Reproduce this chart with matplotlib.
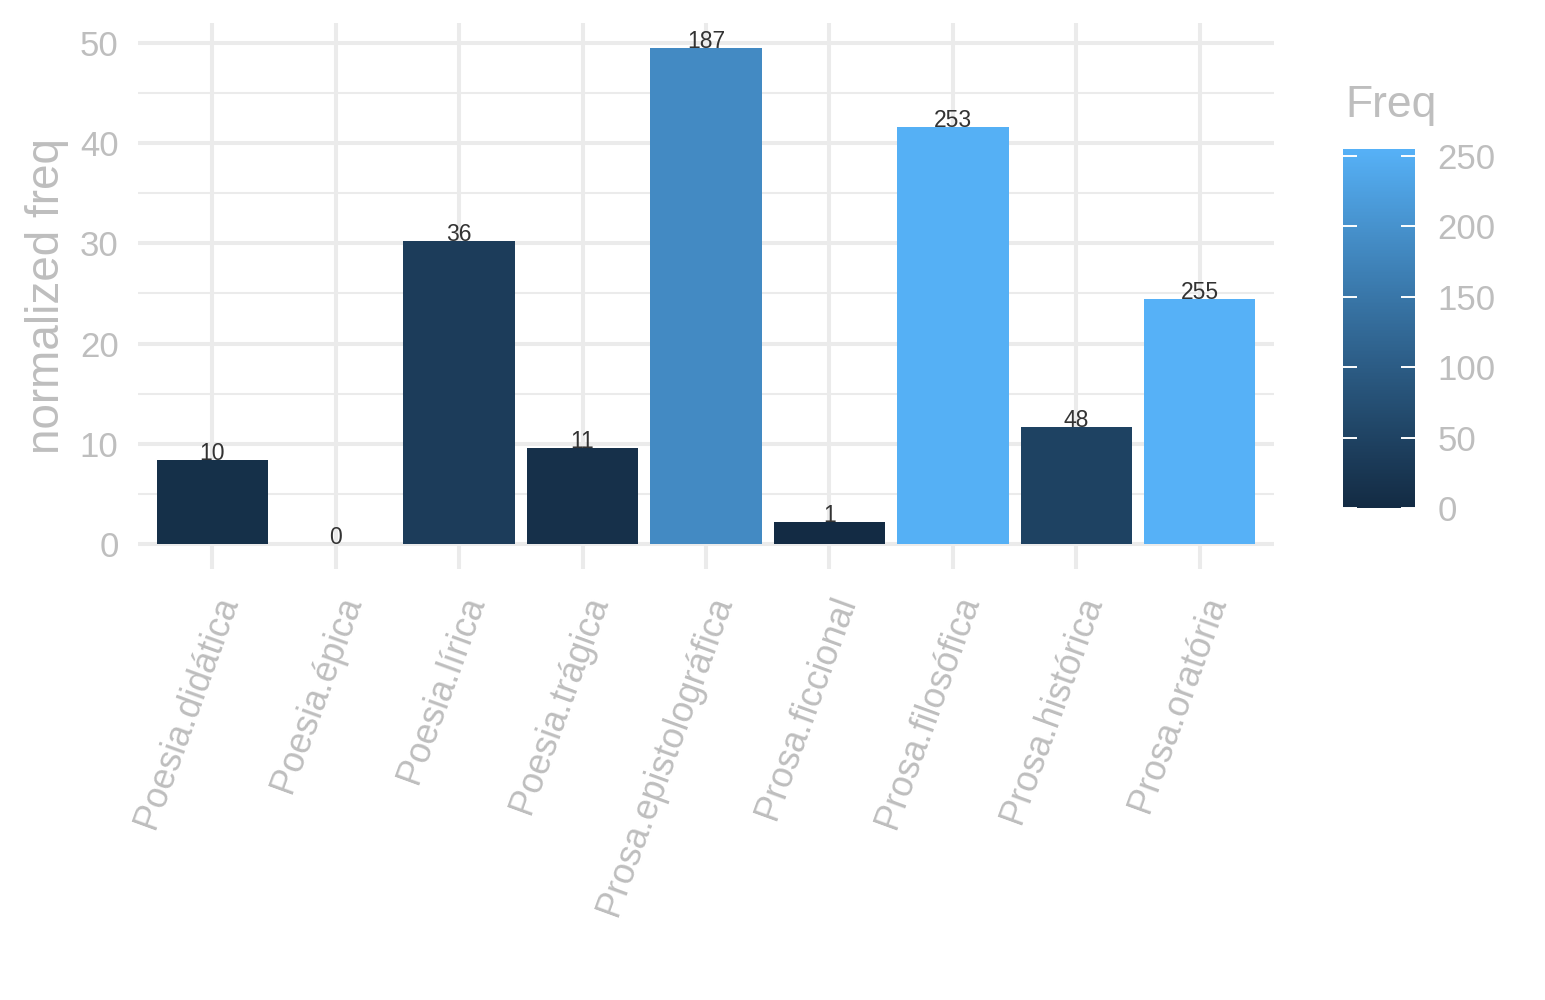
import numpy as np
import matplotlib
matplotlib.use("Agg")
import matplotlib.pyplot as plt
from matplotlib.colors import LinearSegmentedColormap, Normalize
from matplotlib.cm import ScalarMappable

plt.rcParams['font.family'] = ['Liberation Sans', 'DejaVu Sans']

categories = ["Poesia.didática", "Poesia.épica", "Poesia.lírica", "Poesia.trágica",
              "Prosa.epistolográfica", "Prosa.ficcional", "Prosa.filosófica",
              "Prosa.histórica", "Prosa.oratória"]
freq = [10, 0, 36, 11, 187, 1, 253, 48, 255]
norm_freq = [8.4, 0.0, 30.2, 9.6, 49.5, 2.2, 41.6, 11.7, 24.45]
y_ticks = [0, 10, 20, 30, 40, 50]
cbar_ticks = [0, 50, 100, 150, 200, 250]

LOW, HIGH = "#132B43", "#56B1F7"

# --- Lab interpolation like ggplot's seq_gradient_pal ---
def hex2rgb(h):
    h = h.lstrip('#')
    return np.array([int(h[i:i + 2], 16) / 255 for i in (0, 2, 4)])

M = np.array([[0.4124564, 0.3575761, 0.1804375],
              [0.2126729, 0.7151522, 0.0721750],
              [0.0193339, 0.1191920, 0.9503041]])
WP = np.array([0.95047, 1.0, 1.08883])

def rgb2lab(c):
    lin = np.where(c <= 0.04045, c / 12.92, ((c + 0.055) / 1.055) ** 2.4)
    xyz = M @ lin / WP
    f = np.where(xyz > (6 / 29) ** 3, np.cbrt(xyz), xyz / (3 * (6 / 29) ** 2) + 4 / 29)
    return np.array([116 * f[1] - 16, 500 * (f[0] - f[1]), 200 * (f[1] - f[2])])

def lab2rgb(lab):
    L, a, b = lab
    fy = (L + 16) / 116
    fx = fy + a / 500
    fz = fy - b / 200
    f = np.array([fx, fy, fz])
    xyz = np.where(f > 6 / 29, f ** 3, 3 * (6 / 29) ** 2 * (f - 4 / 29)) * WP
    lin = np.linalg.inv(M) @ xyz
    lin = np.clip(lin, 0, 1)
    c = np.where(lin <= 0.0031308, 12.92 * lin, 1.055 * lin ** (1 / 2.4) - 0.055)
    return np.clip(c, 0, 1)

lab_lo, lab_hi = rgb2lab(hex2rgb(LOW)), rgb2lab(hex2rgb(HIGH))
cols = [lab2rgb(lab_lo + t * (lab_hi - lab_lo)) for t in np.linspace(0, 1, 256)]
cmap = LinearSegmentedColormap.from_list("gg", cols)
norm = Normalize(vmin=min(freq), vmax=max(freq))

W, H = 1545, 1000
fig = plt.figure(figsize=(W / 100, H / 100), dpi=100)
ax = fig.add_axes([138 / W, 1 - 569 / H, (1274 - 138) / W, (569 - 23) / H])

x = np.arange(len(categories))
ax.bar(x, norm_freq, width=0.9, color=[cmap(norm(f)) for f in freq], zorder=3)
for xi, v, f in zip(x, norm_freq, freq):
    ax.text(xi, v, str(f), ha='center', va='baseline', fontsize=16.5,
            color='#333333', zorder=4)

ymax = max(norm_freq)
ax.set_xlim(-0.6, len(categories) - 0.4)
ax.set_ylim(-0.05 * ymax, ymax * 1.05)
ax.set_yticks(y_ticks)
ax.set_yticks([5, 15, 25, 35, 45], minor=True)
ax.set_xticks(x)
ax.set_xticklabels(categories, rotation=70, ha='right', va='top',
                   rotation_mode='anchor', fontsize=26)
ax.grid(True, which='major', color='#EBEBEB', linewidth=2.9, zorder=0)
ax.grid(True, which='minor', axis='y', color='#EBEBEB', linewidth=1.45, zorder=0)
ax.set_axisbelow(True)
for s in ax.spines.values():
    s.set_visible(False)
ax.tick_params(axis='both', which='both', length=0, colors='#BEBEBE')
ax.tick_params(axis='x', pad=16)
ax.tick_params(axis='y', pad=14, labelsize=25)
ax.set_ylabel("normalized freq", fontsize=33, color='#BEBEBE', labelpad=8)

# colorbar
cax = fig.add_axes([1343 / W, 1 - 508 / H, 72 / W, 359 / H])
cb = fig.colorbar(ScalarMappable(norm=norm, cmap=cmap), cax=cax, ticks=cbar_ticks)
cb.outline.set_visible(False)
cax.tick_params(axis='y', which='major', direction='in', length=10, width=1.4,
                color='white', labelcolor='#BEBEBE', labelsize=25, pad=16,
                left=True, right=True)
cax.tick_params(axis='y', which='minor', length=0)
fig.text(1345 / W, 1 - 105 / H, "Freq", fontsize=32, color='#BEBEBE',
         ha='left', va='center')

fig.savefig("out.png", dpi=100, facecolor='white')
